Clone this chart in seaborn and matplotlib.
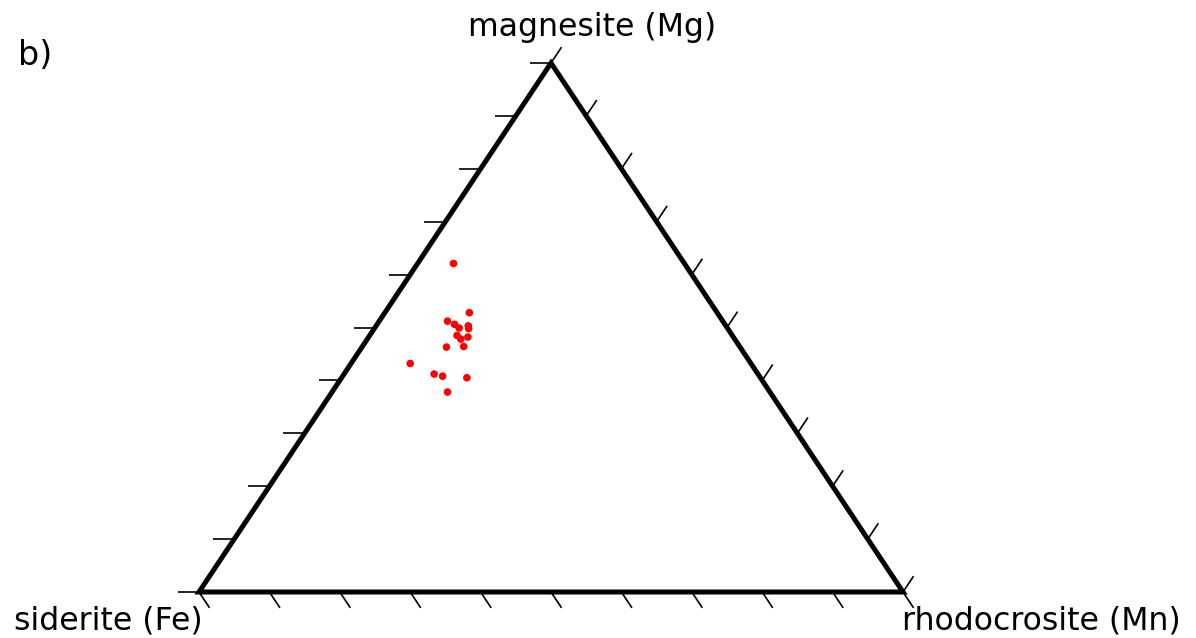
import numpy as np
import pandas as pd
import matplotlib
matplotlib.use("Agg")
import matplotlib.pyplot as plt
from matplotlib.patches import Polygon
import seaborn as sns

# Carbonate compositions (mol %) of the end-members Fe, Mg, Mn
fe = [32.8, 35.2, 39.1, 38.4, 38.1, 36.6, 36.8, 39.1, 38.9, 37.7, 41.7, 39.2, 48.4, 46.0, 45.0, 41.7, 45.8]
mg = [62.1, 52.8, 51.2, 50.6, 49.9, 50.3, 49.8, 48.5, 47.8, 48.2, 46.3, 46.4, 43.2, 41.2, 40.8, 40.5, 37.8]
mn = [5.1, 12.0, 9.7, 11.0, 12.0, 13.1, 13.4, 12.4, 13.3, 14.1, 12.0, 14.4, 8.4, 12.8, 14.2, 17.8, 16.4]

vertex_labels = ["siderite (Fe)", "magnesite (Mg)", "rhodocrosite (Mn)"]
panel_label = "b)"
tick_values = np.arange(0, 101, 10)

sns.set_theme(style="white")
plt.rcParams["font.family"] = ["DejaVu Sans"]

W, H = 1196, 638
fig = plt.figure(figsize=(W / 100, H / 100), dpi=100)
ax = fig.add_axes([0, 0, 1, 1])
ax.set_axis_off()

# Ternary -> cartesian: Fe at (0,0), Mn at (1,0), Mg at (0.5,1)
df = pd.DataFrame({"Fe": fe, "Mg": mg, "Mn": mn})
tot = df.sum(axis=1)
df["x"] = (df["Mn"] + df["Mg"] / 2) / tot
df["y"] = df["Mg"] / tot

# pixel geometry of the triangle
x0, x1 = 199, 903
ytop, ybot = 63, 592
sx = x1 - x0
sy = ybot - ytop
ax.set_xlim(-x0 / sx, (W - x0) / sx)
ax.set_ylim(-(H - ybot) / sy, ybot / sy)

# triangle frame
tri = Polygon([[0, 0], [1, 0], [0.5, 1]], closed=True, fill=False,
              edgecolor="black", linewidth=3.6, joinstyle="miter", zorder=3)
ax.add_patch(tri)

# tick marks along each edge
L = 0.03
tk = dict(color="black", linewidth=1.2, solid_capstyle="butt", zorder=2)
for v in tick_values / 100:
    # left edge (Mg axis): horizontal ticks pointing outward
    px, py = v / 2, v
    ax.plot([px, px - L], [py, py], **tk)
    # bottom edge (Mn axis): ticks parallel to right edge
    px, py = v, 0
    ax.plot([px, px + L / 2], [py, py - L], **tk)
    # right edge (Fe axis): ticks parallel to left edge
    px, py = 1 - v / 2, v
    ax.plot([px, px + L / 2], [py, py + L], **tk)

sns.scatterplot(data=df, x="x", y="y", ax=ax, color="#ff0000", s=30,
                edgecolor="none", linewidth=0, zorder=4, legend=False)

fs = 22.7
ax.text((592 - x0) / sx, (ybot - 36) / sy, vertex_labels[1], ha="center",
        va="baseline", fontsize=fs, color="black")
ax.text((203 - x0) / sx, (ybot - 629) / sy, vertex_labels[0], ha="right",
        va="baseline", fontsize=fs, color="black")
ax.text((902 - x0) / sx, (ybot - 629) / sy, vertex_labels[2], ha="left",
        va="baseline", fontsize=fs, color="black")
fig.text(18 / W, 1 - 65 / H, panel_label, ha="left", va="baseline",
         fontsize=24, color="black")

fig.savefig("out.png", dpi=100, facecolor="white")
